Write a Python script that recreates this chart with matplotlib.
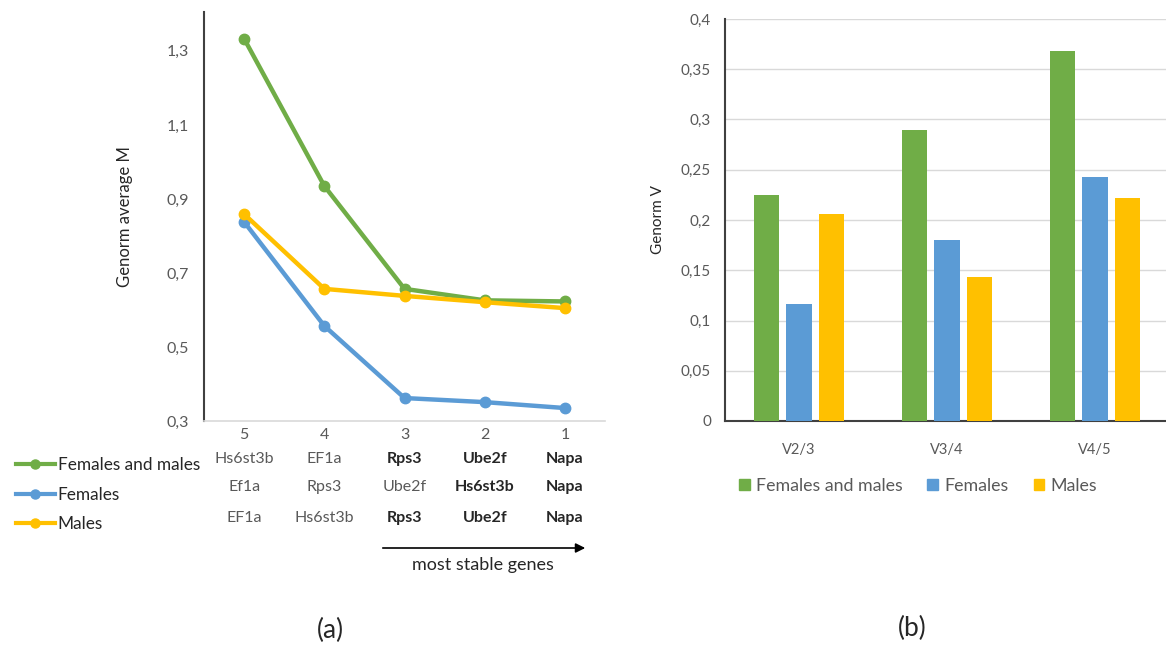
import matplotlib
matplotlib.use('Agg')
import matplotlib.pyplot as plt
from matplotlib import ticker
from matplotlib.lines import Line2D
from matplotlib.patches import Patch
from matplotlib.transforms import blended_transform_factory

plt.rcParams['font.family'] = ['Lato', 'DejaVu Sans']

GREEN = '#70AD47'
BLUE = '#5B9BD5'
YELLOW = '#FFC000'
GREY = '#595959'

# panel (a): genorm average M per number of remaining genes
n_genes = ['5', '4', '3', '2', '1']
m_both = [1.333, 0.935, 0.657, 0.626, 0.623]
m_females = [0.838, 0.557, 0.362, 0.351, 0.335]
m_males = [0.859, 0.657, 0.638, 0.621, 0.605]

# gene excluded at each step, one row per series; bold = stable
genes_both = ['Hs6st3b', 'EF1a', 'Rps3', 'Ube2f', 'Napa']
genes_females = ['Ef1a', 'Rps3', 'Ube2f', 'Hs6st3b', 'Napa']
genes_males = ['EF1a', 'Hs6st3b', 'Rps3', 'Ube2f', 'Napa']
bold_both = [False, False, True, True, True]
bold_females = [False, False, False, True, True]
bold_males = [False, False, True, True, True]

# panel (b): pairwise variation V
pairs = ['V2/3', 'V3/4', 'V4/5']
v_both = [0.225, 0.290, 0.368]
v_females = [0.116, 0.180, 0.243]
v_males = [0.206, 0.143, 0.222]

series = ['Females and males', 'Females', 'Males']
colors = [GREEN, BLUE, YELLOW]

W, H = 1166, 646
fig = plt.figure(figsize=(W / 100, H / 100), dpi=100)


def fx(px):
    return px / W


def fy(py):
    return 1 - py / H


# ---- panel (a)
ax1 = fig.add_axes([fx(204), fy(421), fx(605) - fx(204), fy(12) - fy(421)])
xs = list(range(len(n_genes)))
for vals, c in zip([m_both, m_females, m_males], colors):
    ax1.plot(xs, vals, color=c, lw=3.2, marker='o', ms=7.5, zorder=3)

ax1.set_xlim(-0.5, 4.5)
ax1.set_ylim(0.3, 1.405)
ax1.set_xticks(xs)
ax1.set_xticklabels(n_genes)
ax1.yaxis.set_major_locator(ticker.FixedLocator([0.3, 0.5, 0.7, 0.9, 1.1, 1.3]))
ax1.yaxis.set_major_formatter(ticker.FuncFormatter(lambda v, p: f'{v:.1f}'.replace('.', ',')))
ax1.tick_params(axis='y', length=0, pad=11, labelsize=11.5, labelcolor=GREY)
ax1.tick_params(axis='x', length=0, pad=5, labelsize=11.5, labelcolor=GREY)
for s in ['top', 'right']:
    ax1.spines[s].set_visible(False)
ax1.spines['left'].set_color('#404040')
ax1.spines['left'].set_linewidth(1.5)
ax1.spines['bottom'].set_color('#D9D9D9')
ax1.spines['bottom'].set_linewidth(1.2)
ax1.set_ylabel('Genorm average M', fontsize=12, color='#262626')
ax1.yaxis.set_label_coords((133 - 204) / 401, 0.5)

# gene table under the axis
tr = blended_transform_factory(ax1.transData, fig.transFigure)
rows = [(genes_both, bold_both, 459), (genes_females, bold_females, 487),
        (genes_males, bold_males, 518)]
for names, bolds, py in rows:
    for x, name, b in zip(xs, names, bolds):
        ax1.text(x, fy(py), name, transform=tr, ha='center', va='center',
                 fontsize=11.5, fontweight='bold' if b else 'normal',
                 color='#262626' if b else GREY, clip_on=False)

handles_a = [Line2D([], [], color=c, lw=3, marker='o', ms=6.5) for c in colors]
fig.legend(handles_a, series, loc='upper left', bbox_to_anchor=(0, fy(442)),
           frameon=False, fontsize=12.4, labelspacing=0.77, handlelength=2.3,
           handletextpad=0.15, labelcolor='#262626')

fig.add_artist(plt.Annotation('', xy=(fx(588), fy(548)), xytext=(fx(380), fy(548)),
                              xycoords='figure fraction', textcoords='figure fraction',
                              arrowprops=dict(arrowstyle='-|>', color='black', lw=1.2,
                                              mutation_scale=14)))
fig.text(fx(483), fy(565), 'most stable genes', ha='center', va='center',
         fontsize=13, color='#262626')
fig.text(fx(330), fy(630), '(a)', ha='center', va='center', fontsize=19, color='#262626')

# ---- panel (b)
ax2 = fig.add_axes([fx(725), fy(421), 1 - fx(725), fy(19) - fy(421)])
bw = 0.17
step = 0.222
gx = list(range(len(pairs)))
for i, (vals, c) in enumerate(zip([v_both, v_females, v_males], colors)):
    ax2.bar([g + (i - 1) * step for g in gx], vals, width=bw, color=c, zorder=3)

ax2.set_xlim(-0.5, 2.48)
ax2.set_ylim(0, 0.4)
ax2.set_xticks(gx)
ax2.set_xticklabels(pairs)
ax2.yaxis.set_major_locator(ticker.MultipleLocator(0.05))
ax2.yaxis.set_major_formatter(ticker.FuncFormatter(
    lambda v, p: ('0' if abs(v) < 1e-9 else f'{v:.2f}'.rstrip('0').replace('.', ','))))
ax2.grid(axis='y', color='#D9D9D9', lw=1, zorder=0)
ax2.tick_params(axis='y', length=0, pad=10, labelsize=11, labelcolor=GREY)
ax2.tick_params(axis='x', length=0, pad=16, labelsize=10.5, labelcolor=GREY)
for s in ['top', 'right']:
    ax2.spines[s].set_visible(False)
ax2.spines['left'].set_color('#404040')
ax2.spines['left'].set_linewidth(1.5)
ax2.spines['bottom'].set_color('#404040')
ax2.spines['bottom'].set_linewidth(1.5)
ax2.set_ylabel('Genorm V', fontsize=11, color='#262626')
ax2.yaxis.set_label_coords((665 - 725) / 441, 0.5)

handles_b = [Patch(color=c) for c in colors]
fig.legend(handles_b, series, loc='center', bbox_to_anchor=(fx(918), fy(486)), ncol=3,
           frameon=False, fontsize=12.8, handlelength=0.6, handleheight=0.6,
           handletextpad=0.35, columnspacing=1.4, labelcolor=GREY)
fig.text(fx(912), fy(628), '(b)', ha='center', va='center', fontsize=19, color='#262626')

fig.savefig('out.png', dpi=100)
